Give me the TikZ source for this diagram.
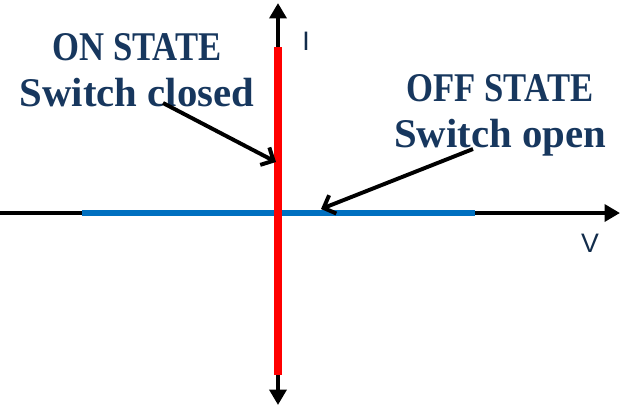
\documentclass[tikz,border=0pt]{standalone}
\usepackage{graphicx}
\usepackage{fontspec}
\setmainfont{Liberation Serif}
\setsansfont{Liberation Sans}
\usetikzlibrary{arrows.meta}
\definecolor{navy}{RGB}{23,55,94}
\definecolor{onred}{RGB}{255,0,0}
\definecolor{offblue}{RGB}{0,112,192}
\newcommand{\narrowcaps}[1]{\scalebox{0.85}[1]{#1}}

\begin{document}
\begin{tikzpicture}[x=0.025cm,y=-0.025cm]
	\useasboundingbox (0,0) rectangle (620,410);
	\tikzstyle{axis}=[line width=3.5pt]
	\tikzstyle{pointer}=[line width=2.8pt,-{Straight Barb[length=7pt,width=14pt]}]
	% axes
	\coordinate (vl) at (0,213);
	\coordinate (vr) at (620,213);
	\coordinate (ib) at (278,405);
	\coordinate (it) at (278,3);
	\draw[axis,-{Triangle[length=11pt,width=12pt]}] (vl)--(vr);
	\draw[axis,{Triangle[length=11pt,width=12pt]}-{Triangle[length=11pt,width=12pt]}] (ib)--(it);
	% off and on branches
	\coordinate (b1) at (82,213);
	\coordinate (b2) at (475,213);
	\draw[offblue,line width=4.3pt] (b1)--(b2);
	\coordinate (r1) at (278,47);
	\coordinate (r2) at (278,375);
	\draw[onred,line width=5pt] (r1)--(r2);
	% labels
	\tikzstyle{every node}=[text=navy,font=\fontsize{29}{32.7}\selectfont\bfseries,align=center];
	\node (on) at (137,70) {\narrowcaps{ON STATE}\\Switch closed};
	\node (off) at (500,115) {\narrowcaps{OFF STATE}\\Switch open};
	\tikzstyle{every node}=[text=navy!80!black,font=\sffamily\fontsize{19}{22}\selectfont];
	\node (i) at (306,41) {I};
	\node (v) at (590,243) {V};
	% pointers
	\coordinate (onfrom) at (163,103);
	\coordinate (onto) at (276,162);
	\coordinate (offfrom) at (473,149);
	\coordinate (offto) at (321,209);
	\draw[pointer] (onfrom)--(onto);
	\draw[pointer] (offfrom)--(offto);
\end{tikzpicture}
\end{document}
